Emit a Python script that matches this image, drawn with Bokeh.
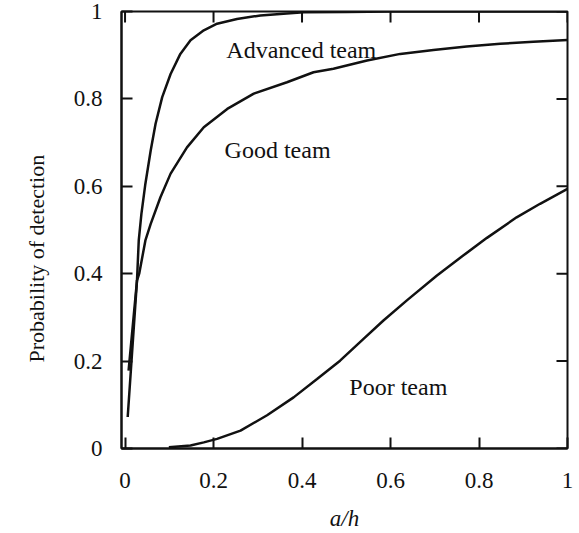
from bokeh.core.properties import value
from bokeh.embed import file_html
from bokeh.models import FixedTicker, LinearAxis, Range1d, Title
from bokeh.plotting import figure
from bokeh.resources import INLINE

# Detection probability against the ratio a/h for three team levels
advanced_x = [0.006, 0.027, 0.031, 0.037, 0.046, 0.058, 0.069, 0.084, 0.103,
              0.125, 0.148, 0.178, 0.208, 0.253, 0.306, 0.358, 0.404, 0.5,
              0.6, 0.7, 0.8, 0.9, 1.0]
advanced_y = [0.072, 0.384, 0.476, 0.537, 0.606, 0.682, 0.743, 0.804, 0.857,
              0.903, 0.934, 0.957, 0.972, 0.983, 0.991, 0.995, 0.998, 0.999,
              1.0, 1.0, 1.0, 1.0, 1.0]

good_x = [0.008, 0.027, 0.032, 0.046, 0.058, 0.080, 0.103, 0.140, 0.178,
          0.231, 0.291, 0.366, 0.426, 0.471, 0.547, 0.622, 0.697, 0.772,
          0.848, 0.923, 1.0]
good_y = [0.178, 0.384, 0.400, 0.476, 0.514, 0.575, 0.629, 0.689, 0.735,
          0.777, 0.812, 0.838, 0.861, 0.869, 0.888, 0.903, 0.912, 0.920,
          0.926, 0.931, 0.935]

poor_x = [0.099, 0.148, 0.178, 0.208, 0.261, 0.321, 0.381, 0.434, 0.486,
          0.539, 0.584, 0.637, 0.705, 0.765, 0.818, 0.885, 0.938, 1.0]
poor_y = [0.003, 0.007, 0.014, 0.022, 0.041, 0.076, 0.117, 0.159, 0.201,
          0.251, 0.293, 0.339, 0.396, 0.442, 0.482, 0.529, 0.560, 0.594]

curve_names = ["Advanced team", "Good team", "Poor team"]
name_x = [0.229, 0.225, 0.507]
name_y = [0.912, 0.683, 0.140]

x_ticks = [0, 0.2, 0.4, 0.6, 0.8, 1]
y_ticks = [0, 0.2, 0.4, 0.6, 0.8, 1]
x_tick_labels = {0: "0", 0.2: "0.2", 0.4: "0.4", 0.6: "0.6", 0.8: "0.8", 1: "1"}
y_tick_labels = {0: "0", 0.2: "0.2", 0.4: "0.4", 0.6: "0.6", 0.8: "0.8", 1: "1"}

FONT = "Liberation Serif"
INK = "#111111"
X0, X1, Y0, Y1 = -0.008, 1.0, 0.0, 1.0
FRAME_W, FRAME_H = 446, 437
TICK_PX = 11

p = figure(
    width=579, height=533,
    x_range=Range1d(X0, X1), y_range=Range1d(Y0, Y1),
    x_axis_location=None, y_axis_location=None,
    output_backend="svg", toolbar_location=None,
    min_border_left=121, min_border_right=12,
    min_border_top=11, min_border_bottom=85,
    background_fill_color="white", border_fill_color="white",
)
p.grid.visible = False
p.outline_line_color = INK
p.outline_line_width = 2


def style_axis(ax, ticks, labels, standoff):
    ax.ticker = FixedTicker(ticks=ticks)
    ax.major_label_overrides = labels
    ax.axis_line_color = INK
    ax.axis_line_width = 2
    ax.major_tick_line_color = INK
    ax.major_tick_line_width = 2
    ax.major_tick_in = TICK_PX
    ax.major_tick_out = 0
    ax.minor_tick_line_color = None
    ax.major_label_text_font = FONT
    ax.major_label_text_color = INK
    ax.major_label_text_font_size = "23px"
    ax.major_label_standoff = standoff


bottom = LinearAxis(axis_label="a/h")
style_axis(bottom, x_ticks, x_tick_labels, 24)
bottom.axis_label_text_font = FONT
bottom.axis_label_text_font_size = "23px"
bottom.axis_label_text_font_style = "italic"
bottom.axis_label_text_color = INK
bottom.axis_label_standoff = 15
p.add_layout(bottom, "below")

left = LinearAxis()
style_axis(left, y_ticks, y_tick_labels, 19)
p.add_layout(left, "left")

# inward ticks along the top and right edges of the frame
tick_dy = TICK_PX * (Y1 - Y0) / FRAME_H
tick_dx = TICK_PX * (X1 - X0) / FRAME_W
p.segment(x0=x_ticks, y0=[Y1] * len(x_ticks), x1=x_ticks,
          y1=[Y1 - tick_dy] * len(x_ticks), line_color=INK, line_width=2)
p.segment(x0=[X1] * len(y_ticks), y0=y_ticks, x1=[X1 - tick_dx] * len(y_ticks),
          y1=y_ticks, line_color=INK, line_width=2)

for xs, ys in [(advanced_x, advanced_y), (good_x, good_y), (poor_x, poor_y)]:
    p.line(xs, ys, line_color=INK, line_width=2.5)

p.text(x=name_x, y=name_y, text=curve_names,
       text_font=value(FONT), text_font_size="24px", text_color=INK,
       text_align="left", text_baseline="alphabetic")

p.add_layout(Title(text="Probability of detection", align="left", offset=86,
                   standoff=43, text_font=FONT, text_font_size="22px",
                   text_font_style="normal", text_color=INK), "left")

open("out.html", "w").write(file_html(p, INLINE))
